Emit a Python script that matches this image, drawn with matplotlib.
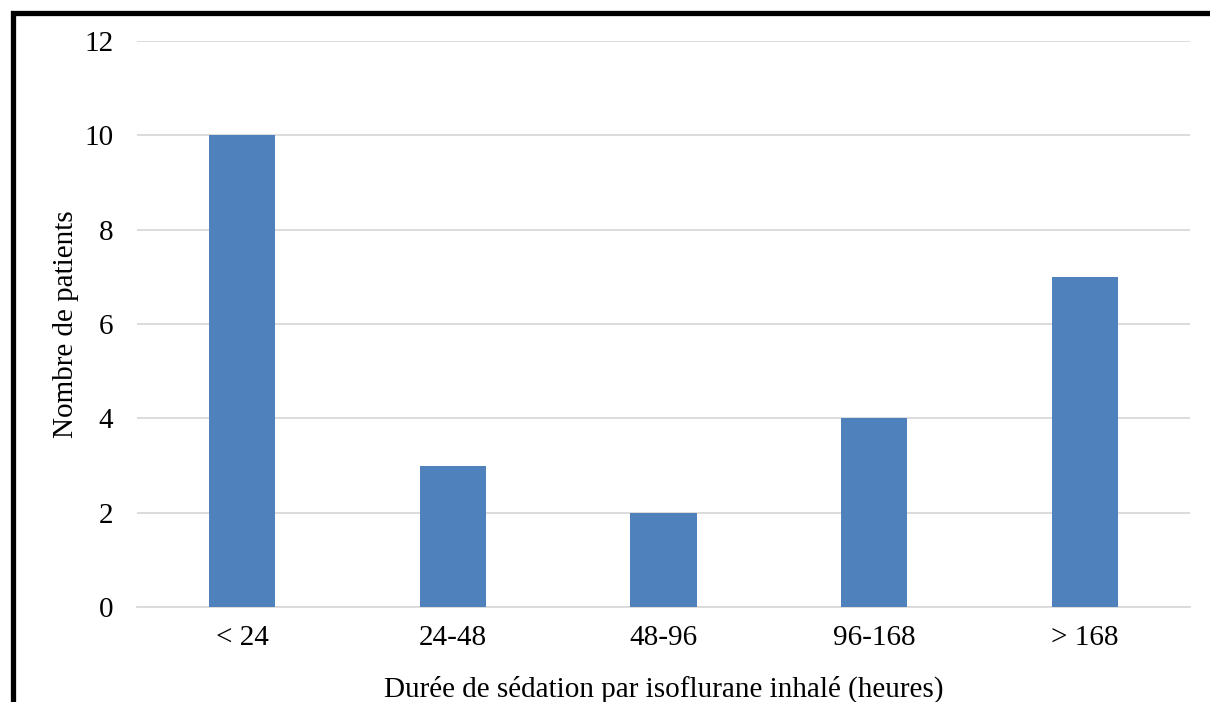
import matplotlib
matplotlib.use('Agg')
from matplotlib import pyplot as plt
from matplotlib.patches import Rectangle

categories = ['< 24', '24-48', '48-96', '96-168', '> 168']
patients = [10, 3, 2, 4, 7]

plt.rcParams['font.family'] = ['Liberation Serif', 'DejaVu Serif']

fig = plt.figure(figsize=(12.1, 7.02), dpi=100)
W, H = 1210, 702
ax = fig.add_axes([137 / W, 1 - 607 / H, (1190 - 137) / W, (607 - 41) / H])

x = range(len(categories))
ax.bar(x, patients, width=0.315, color='#4F81BD', zorder=3)
ax.set_xlim(-0.5, len(categories) - 0.5)
ax.set_ylim(0, 12)
ax.set_yticks(range(0, 13, 2))
ax.set_xticks(list(x))
ax.set_xticklabels(categories)
ax.grid(axis='y', color='#D9D9D9', linewidth=1.3, zorder=0)
for s in ['top', 'right', 'left']:
    ax.spines[s].set_visible(False)
ax.spines['bottom'].set_color('#D9D9D9')
ax.spines['bottom'].set_linewidth(1.3)
ax.tick_params(axis='both', length=0, labelsize=21, pad=13)
ax.tick_params(axis='y', pad=17)
ax.set_xlabel('Durée de sédation par isoflurane inhalé (heures)', fontsize=21, labelpad=18)
ax.set_ylabel('Nombre de patients', fontsize=21, labelpad=4)

# cadre noir autour de la figure (coupé à droite et en bas)
fig.patches.append(Rectangle((12.5 / W, -0.1), 1.2, 1 - 12.5 / H + 0.1,
                             transform=fig.transFigure, fill=False,
                             edgecolor='black', linewidth=3.8))

fig.savefig('out.png', dpi=100)
